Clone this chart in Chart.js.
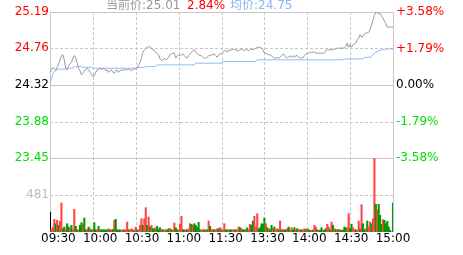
<!DOCTYPE html>
<html>
<head>
<meta charset="utf-8">
<script src="https://cdn.jsdelivr.net/npm/chart.js@4"></script>
<style>
  html, body { margin: 0; padding: 0; background: #fff; }
  canvas { display: block; }
</style>
</head>
<body>
<canvas id="chart" width="463" height="255"></canvas>
<script>
// quote header
const prevClose = 24.32;
const lastPrice = 25.01;
const changePct = 2.84;
const avgNow = 24.75;

// axis ticks
const priceTicks = [23.45, 23.88, 24.32, 24.76, 25.19];
const pctTicks = [-3.58, -1.79, 0, 1.79, 3.58];
const volTicks = [481];
const volMax = 962;
const timeLabels = ['09:30', '10:00', '10:30', '11:00', '11:30', '13:30', '14:00', '14:30', '15:00'];

// one value per minute, 241 minutes
const price = [
  24.47, 24.50, 24.53, 24.51, 24.50, 24.53, 24.57, 24.62, 24.67, 24.68,
  24.62, 24.52, 24.50, 24.55, 24.57, 24.59, 24.64, 24.67, 24.64, 24.58,
  24.52, 24.49, 24.44, 24.46, 24.49, 24.50, 24.52, 24.50, 24.47, 24.45,
  24.42, 24.43, 24.47, 24.50, 24.51, 24.52, 24.50, 24.52, 24.51, 24.49,
  24.50, 24.47, 24.49, 24.50, 24.47, 24.46, 24.49, 24.50, 24.47, 24.49,
  24.50, 24.49, 24.51, 24.50, 24.50, 24.51, 24.50, 24.49, 24.50, 24.52,
  24.51, 24.52, 24.56, 24.59, 24.64, 24.71, 24.74, 24.76, 24.77, 24.78,
  24.77, 24.76, 24.74, 24.73, 24.71, 24.69, 24.68, 24.63, 24.61, 24.62,
  24.64, 24.62, 24.63, 24.65, 24.68, 24.69, 24.70, 24.70, 24.64, 24.67,
  24.68, 24.67, 24.68, 24.69, 24.67, 24.65, 24.64, 24.67, 24.69, 24.71,
  24.73, 24.74, 24.71, 24.69, 24.68, 24.67, 24.67, 24.65, 24.64, 24.64,
  24.65, 24.67, 24.67, 24.68, 24.68, 24.69, 24.67, 24.65, 24.68, 24.69,
  24.69, 24.71, 24.73, 24.73, 24.71, 24.74, 24.73, 24.74, 24.75, 24.74,
  24.74, 24.73, 24.73, 24.74, 24.75, 24.74, 24.73, 24.74, 24.74, 24.73,
  24.74, 24.75, 24.74, 24.75, 24.76, 24.77, 24.77, 24.77, 24.76, 24.74,
  24.70, 24.70, 24.69, 24.68, 24.68, 24.67, 24.65, 24.64, 24.64, 24.65,
  24.64, 24.65, 24.67, 24.69, 24.68, 24.65, 24.64, 24.65, 24.67, 24.65,
  24.67, 24.65, 24.67, 24.67, 24.65, 24.64, 24.65, 24.64, 24.67, 24.69,
  24.70, 24.70, 24.71, 24.71, 24.71, 24.71, 24.70, 24.70, 24.70, 24.70,
  24.70, 24.70, 24.70, 24.73, 24.74, 24.74, 24.74, 24.74, 24.74, 24.75,
  24.75, 24.76, 24.76, 24.76, 24.76, 24.76, 24.76, 24.78, 24.82, 24.77,
  24.80, 24.77, 24.80, 24.81, 24.82, 24.86, 24.88, 24.92, 24.89, 24.90,
  24.93, 24.94, 24.94, 24.95, 24.98, 25.04, 25.09, 25.15, 25.19, 25.18,
  25.17, 25.17, 25.14, 25.12, 25.08, 25.05, 25.01, 25.01, 25.01, 25.01,
  25.01
];

const avgPrice = [
  24.33, 24.40, 24.45, 24.48, 24.49, 24.50, 24.51, 24.51, 24.51, 24.51,
  24.51, 24.51, 24.51, 24.52, 24.52, 24.52, 24.52, 24.54, 24.54, 24.54,
  24.54, 24.54, 24.54, 24.53, 24.53, 24.53, 24.53, 24.53, 24.53, 24.53,
  24.52, 24.52, 24.52, 24.52, 24.52, 24.52, 24.52, 24.52, 24.52, 24.52,
  24.52, 24.52, 24.52, 24.52, 24.52, 24.52, 24.52, 24.52, 24.52, 24.52,
  24.52, 24.52, 24.52, 24.52, 24.52, 24.52, 24.52, 24.52, 24.52, 24.52,
  24.52, 24.53, 24.53, 24.53, 24.53, 24.53, 24.53, 24.54, 24.54, 24.54,
  24.54, 24.54, 24.54, 24.54, 24.54, 24.56, 24.56, 24.56, 24.56, 24.56,
  24.56, 24.56, 24.56, 24.56, 24.56, 24.56, 24.56, 24.56, 24.56, 24.56,
  24.56, 24.56, 24.56, 24.56, 24.56, 24.56, 24.56, 24.56, 24.56, 24.56,
  24.56, 24.56, 24.58, 24.58, 24.58, 24.58, 24.58, 24.58, 24.58, 24.58,
  24.58, 24.58, 24.58, 24.58, 24.58, 24.58, 24.58, 24.58, 24.58, 24.58,
  24.58, 24.60, 24.60, 24.60, 24.60, 24.60, 24.60, 24.60, 24.60, 24.60,
  24.60, 24.60, 24.60, 24.60, 24.60, 24.60, 24.60, 24.60, 24.60, 24.60,
  24.60, 24.60, 24.60, 24.60, 24.60, 24.62, 24.62, 24.62, 24.62, 24.62,
  24.62, 24.62, 24.62, 24.62, 24.62, 24.62, 24.62, 24.62, 24.62, 24.62,
  24.62, 24.62, 24.62, 24.62, 24.62, 24.62, 24.62, 24.62, 24.62, 24.62,
  24.62, 24.62, 24.62, 24.62, 24.62, 24.62, 24.62, 24.62, 24.62, 24.62,
  24.62, 24.62, 24.62, 24.62, 24.62, 24.62, 24.62, 24.62, 24.62, 24.62,
  24.62, 24.62, 24.62, 24.62, 24.62, 24.62, 24.62, 24.62, 24.62, 24.62,
  24.62, 24.62, 24.62, 24.62, 24.62, 24.62, 24.63, 24.63, 24.63, 24.63,
  24.63, 24.63, 24.63, 24.63, 24.63, 24.63, 24.63, 24.63, 24.63, 24.63,
  24.65, 24.65, 24.65, 24.65, 24.65, 24.66, 24.68, 24.70, 24.71, 24.72,
  24.73, 24.73, 24.74, 24.74, 24.74, 24.75, 24.75, 24.75, 24.75, 24.75,
  24.75
];

const volume = [
  260, 30, 60, 165, 108, 152, 87, 139, 377, 40,
  65, 30, 108, 65, 43, 87, 30, 295, 74, 30,
  26, 87, 121, 108, 182, 30, 30, 65, 43, 26,
  30, 121, 30, 26, 74, 30, 30, 26, 30, 26,
  30, 43, 26, 30, 35, 152, 165, 30, 26, 30,
  22, 30, 26, 30, 130, 30, 26, 43, 30, 22,
  65, 30, 26, 87, 173, 87, 173, 316, 87, 195,
  65, 87, 43, 43, 56, 74, 30, 56, 30, 30,
  26, 30, 26, 43, 43, 30, 26, 117, 56, 30,
  26, 100, 204, 30, 26, 30, 30, 43, 108, 100,
  87, 108, 87, 60, 126, 30, 26, 30, 30, 26,
  30, 143, 74, 30, 30, 30, 26, 43, 43, 56,
  30, 26, 108, 26, 30, 30, 26, 30, 26, 30,
  30, 26, 65, 56, 43, 26, 30, 30, 56, 30,
  100, 87, 143, 204, 60, 238, 40, 56, 108, 100,
  182, 108, 56, 43, 30, 87, 43, 65, 26, 43,
  30, 143, 30, 30, 26, 30, 43, 65, 26, 56,
  26, 56, 30, 43, 26, 30, 30, 26, 43, 30,
  43, 30, 22, 22, 26, 87, 65, 30, 22, 26,
  56, 22, 26, 43, 100, 65, 30, 130, 87, 43,
  30, 30, 30, 30, 22, 26, 65, 56, 56, 238,
  43, 100, 56, 30, 30, 22, 143, 40, 355, 108,
  30, 43, 143, 65, 130, 108, 173, 955, 360, 282,
  360, 217, 100, 160, 152, 108, 139, 65, 22, 0,
  377
];

// 1 = up minute, -1 = down minute, 0 = opening
const volDir = [
  0, 1, 1, 1, -1, 1, -1, 1, 1, -1,
  -1, 1, -1, -1, 1, -1, 1, 1, -1, -1,
  1, -1, -1, 1, -1, -1, 1, -1, 1, -1,
  1, -1, -1, 1, -1, 1, -1, -1, -1, -1,
  -1, 1, -1, 1, -1, 1, -1, -1, -1, -1,
  1, 1, -1, 1, 1, -1, 1, 1, 1, -1,
  1, -1, 1, 1, 1, -1, 1, 1, -1, 1,
  -1, 1, -1, -1, 1, -1, -1, -1, 1, -1,
  1, 1, -1, -1, 1, -1, 1, 1, -1, -1,
  1, 1, 1, -1, -1, 1, -1, 1, 1, -1,
  1, -1, -1, -1, -1, -1, 1, 1, -1, 1,
  -1, 1, -1, 1, 1, -1, 1, 1, -1, 1,
  -1, 1, 1, -1, -1, 1, -1, -1, 1, 1,
  -1, 1, 1, -1, 1, -1, -1, 1, -1, 1,
  1, -1, -1, 1, 1, 1, -1, -1, -1, -1,
  -1, 1, -1, 1, -1, -1, 1, -1, 1, 1,
  -1, 1, -1, 1, -1, -1, 1, -1, 1, 1,
  -1, -1, 1, -1, 1, 1, -1, 1, 1, -1,
  1, -1, -1, 1, -1, 1, 1, -1, 1, -1,
  -1, 1, -1, -1, 1, 1, -1, 1, -1, 1,
  -1, 1, -1, 1, -1, -1, -1, -1, 1, 1,
  -1, -1, 1, 1, -1, 1, 1, -1, 1, -1,
  -1, 1, -1, 1, 1, -1, 1, 1, -1, 1,
  -1, -1, -1, 1, -1, -1, -1, -1, -1, -1,
  -1
];

const RED = '#ff0000';
const GREEN = '#00dd00';
const BLUE = '#8cb4f0';
const GRID = '#c8c8c8';

Chart.defaults.font.family = '"DejaVu Sans", sans-serif';
Chart.defaults.font.size = 12;

const setTicks = values => scale => {
  scale.ticks = values.map(v => ({ value: v }));
};
const fixWidth = w => scale => {
  scale.width = w;
};
const upDownColor = (v, mid) => {
  if (Math.abs(v - mid) < 1e-6) return '#000';
  return v > mid ? RED : GREEN;
};

// grid: borders and prev close solid, the rest dashed
const gridLines = {
  id: 'gridLines',
  beforeDatasetsDraw(chart) {
    const { ctx, chartArea: a, scales } = chart;
    const { x, y, yv } = scales;
    ctx.save();
    ctx.lineWidth = 1;
    ctx.strokeStyle = GRID;
    const line = (x1, y1, x2, y2, solid) => {
      ctx.setLineDash(solid ? [] : [3, 2]);
      ctx.beginPath();
      ctx.moveTo(x1, y1);
      ctx.lineTo(x2, y2);
      ctx.stroke();
    };
    x.ticks.forEach(t => {
      const px = Math.round(x.getPixelForValue(t.value)) + 0.5;
      line(px, a.top, px, a.bottom, t.value === x.min || t.value === x.max);
    });
    y.ticks.forEach(t => {
      const py = Math.round(y.getPixelForValue(t.value)) + 0.5;
      const solid = t.value === y.min || t.value === y.max || Math.abs(t.value - prevClose) < 1e-6;
      line(a.left, py, a.right, py, solid);
    });
    yv.ticks.forEach(t => {
      const py = Math.round(yv.getPixelForValue(t.value)) + 0.5;
      line(a.left, py, a.right, py, false);
    });
    ctx.restore();
  }
};

const header = {
  id: 'header',
  afterDraw(chart) {
    const ctx = chart.ctx;
    ctx.save();
    ctx.font = '12px "DejaVu Sans", "Noto Sans CJK SC", sans-serif';
    ctx.textBaseline = 'middle';
    ctx.textAlign = 'left';
    ctx.fillStyle = '#999';
    ctx.fillText('当前价:' + lastPrice.toFixed(2), 106, 6);
    ctx.fillStyle = RED;
    ctx.fillText(changePct.toFixed(2) + '%', 187, 6);
    ctx.fillStyle = BLUE;
    ctx.fillText('均价:' + avgNow.toFixed(2), 230, 6);
    ctx.restore();
  }
};

const chart = new Chart(document.getElementById('chart'), {
  type: 'line',
  data: {
    datasets: [
      {
        label: 'price',
        data: price.map((v, i) => ({ x: i, y: v })),
        yAxisID: 'y',
        borderColor: '#999',
        borderWidth: 1,
        pointRadius: 0,
        tension: 0
      },
      {
        label: 'avg',
        data: avgPrice.map((v, i) => ({ x: i, y: v })),
        yAxisID: 'y',
        borderColor: BLUE,
        borderWidth: 1,
        pointRadius: 0,
        tension: 0
      },
      {
        type: 'bar',
        label: 'volume',
        data: volume.map((v, i) => ({ x: i, y: v })),
        yAxisID: 'yv',
        backgroundColor: c => volDir[c.dataIndex] > 0 ? '#ff4545' : volDir[c.dataIndex] < 0 ? '#009a00' : '#000',
        barPercentage: 1,
        categoryPercentage: 1
      }
    ]
  },
  options: {
    responsive: false,
    animation: false,
    devicePixelRatio: 1,
    layout: { padding: { top: 12, left: 0, right: 0, bottom: 0 } },
    plugins: { legend: { display: false }, tooltip: { enabled: false } },
    scales: {
      x: {
        type: 'linear',
        display: false,
        min: 0,
        max: 240,
        offset: false,
        ticks: { stepSize: 30 }
      },
      xl: {
        type: 'linear',
        position: 'bottom',
        min: -0.2,
        max: 8,
        offset: false,
        grid: { display: false, drawTicks: false },
        border: { display: false },
        afterBuildTicks: setTicks(timeLabels.map((t, i) => i)),
        afterFit: s => { s.height = 23; },
        ticks: {
          autoSkip: false,
          maxRotation: 0,
          padding: 0,
          color: '#000',
          callback: v => timeLabels[v]
        }
      },
      y: {
        position: 'left',
        stack: 'left',
        stackWeight: 146,
        weight: 2,
        min: priceTicks[0],
        max: priceTicks[priceTicks.length - 1],
        grid: { display: false, drawTicks: false },
        border: { display: false },
        afterBuildTicks: setTicks(priceTicks),
        afterFit: fixWidth(50),
        ticks: {
          padding: 1,
          color: c => upDownColor(c.tick.value, prevClose),
          callback: v => v.toFixed(2)
        }
      },
      yv: {
        position: 'left',
        stack: 'left',
        stackWeight: 74,
        weight: 1,
        min: 0,
        max: volMax,
        grid: { display: false, drawTicks: false },
        border: { display: false },
        afterBuildTicks: setTicks(volTicks),
        afterFit: fixWidth(50),
        ticks: { padding: 1, color: '#bbb', callback: v => String(v) }
      },
      yp: {
        position: 'right',
        stack: 'right',
        stackWeight: 146,
        weight: 1,
        min: pctTicks[0],
        max: pctTicks[pctTicks.length - 1],
        grid: { display: false, drawTicks: false },
        border: { display: false },
        afterBuildTicks: setTicks(pctTicks),
        afterFit: fixWidth(70),
        ticks: {
          padding: 3,
          color: c => upDownColor(c.tick.value, 0),
          callback: v => (v > 0 ? '+' : '') + v.toFixed(2) + '%'
        }
      },
      yv2: {
        position: 'right',
        stack: 'right',
        stackWeight: 74,
        weight: 2,
        min: 0,
        max: 1,
        grid: { display: false, drawTicks: false },
        border: { display: false },
        afterFit: fixWidth(70),
        ticks: { display: false }
      }
    }
  },
  plugins: [gridLines, header]
});
</script>
</body>
</html>
